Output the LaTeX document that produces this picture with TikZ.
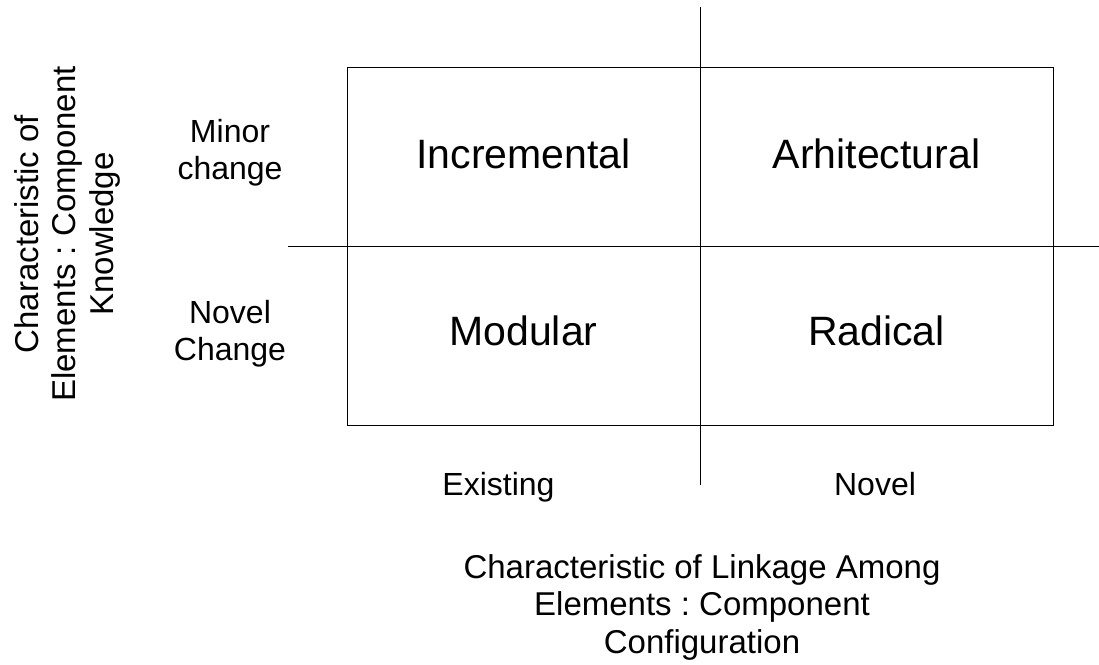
\documentclass[tikz,border=0pt]{standalone}
\usepackage{fontspec}
\setmainfont{Liberation Sans}
\frenchspacing
\begin{document}
\begin{tikzpicture}
[x=1pt,y=-1pt,
  quaddecorate/.style={anchor=base,inner sep=0pt,font=\fontsize{41}{47}\selectfont},%
  sidedecorate/.style={align=center,inner sep=0pt,font=\fontsize{32}{37.5}\selectfont},
  titledecorate/.style={align=center,inner sep=0pt,font=\fontsize{33}{37.5}\selectfont},
  linedecorate/.style={-,line width=1pt}]
\useasboundingbox (0,0) rectangle (1099,664);
%% frame and axes
\coordinate (frametl) at (347,67);
\coordinate (framebr) at (1053,425);
\coordinate (vtop) at (700,7);
\coordinate (vbot) at (700,485);
\coordinate (hleft) at (288,246);
\coordinate (hright) at (1099,246);
\draw[linedecorate] (frametl) rectangle (framebr);
\draw[linedecorate] (vtop) -- (vbot);
\draw[linedecorate] (hleft) -- (hright);
%% quadrants
\foreach \nodename/\x/\y/\txt in {incr/523.5/168/Incremental, arch/876.5/168/Arhitectural,
  modu/523.5/345/Modular, radi/876.5/345/Radical} {
  \node (\nodename) at (\x,\y) [quaddecorate] {\txt};
}
%% row and column labels
\node (minor) at (230,152.6) [sidedecorate] {Minor\\change};
\node (novelch) at (230,333.6) [sidedecorate] {Novel\\Change};
\node (exist) at (498.5,495) [sidedecorate,anchor=base] {Existing};
\node (novel) at (875,495) [sidedecorate,anchor=base] {Novel};
%% axis titles
\node (xtitle) at (702,554) [titledecorate,anchor=north]
  {Characteristic of Linkage Among\\Elements : Component\\Configuration};
\node (ytitle) at (67,234) [titledecorate,rotate=90]
  {Characteristic of\\Elements : Component\\Knowledge};
\end{tikzpicture}
\end{document}
